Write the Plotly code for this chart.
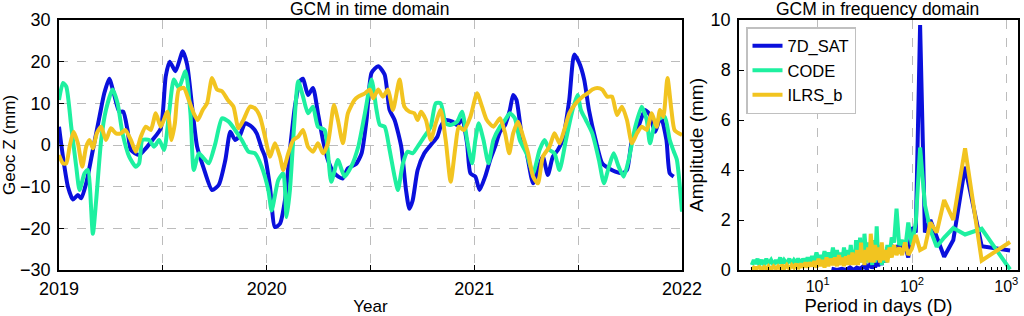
import plotly.graph_objects as go

# ---------------- time domain (decimal year, mm) ----------------
SAT_TIME = [(2019.000, 4.4), (2019.019, -2.8), (2019.043, -10), (2019.067, -13.1), (2019.091, -12),
            (2019.107, -12.8), (2019.131, -9.2), (2019.163, -1.2), (2019.195, 6.8), (2019.218, 12.4),
            (2019.242, 15.9), (2019.266, 12), (2019.290, 8), (2019.309, 8), (2019.330, 3.6),
            (2019.346, -1.2), (2019.386, -2.4), (2019.418, -0.8), (2019.450, 1.2), (2019.490, 4),
            (2019.514, 16.5), (2019.533, 20), (2019.561, 17.7), (2019.596, 22.5), (2019.617, 19.3),
            (2019.641, 9.2), (2019.665, -0.4), (2019.697, -5.6), (2019.737, -10.8), (2019.769, -9.6),
            (2019.801, -3.6), (2019.825, 3.2), (2019.848, 1.2), (2019.872, 2.4), (2019.896, 5.2),
            (2019.928, 4.4), (2019.952, 2.8), (2019.976, -0.8), (2019.992, -2.8), (2020.016, -10),
            (2020.040, -19.7), (2020.064, -18.9), (2020.088, -13.3), (2020.112, -1.2), (2020.136, 9.2),
            (2020.160, 15.3), (2020.175, 15.9), (2020.199, 12), (2020.223, 13.7), (2020.247, 7.6),
            (2020.271, 1.2), (2020.295, -3.6), (2020.320, -6.4), (2020.345, -7.6), (2020.367, -8),
            (2020.391, -5.6), (2020.430, -4.6), (2020.457, -2), (2020.481, 6), (2020.505, 17.3),
            (2020.537, 18.9), (2020.568, 16.9), (2020.592, 8.4), (2020.616, 6), (2020.648, -0.4),
            (2020.671, -10.8), (2020.687, -15.3), (2020.703, -13.3), (2020.727, -6), (2020.759, -2),
            (2020.790, 0), (2020.822, 2), (2020.838, 4.4), (2020.862, 6), (2020.894, 5.6),
            (2020.917, 4.8), (2020.941, 6), (2020.965, 0.4), (2020.981, -6.8), (2021.005, -7.6),
            (2021.025, -10.8), (2021.052, -7.6), (2021.076, -3.6), (2021.100, -0.4), (2021.124, 3.2),
            (2021.148, 4.8), (2021.171, 8.4), (2021.187, 12), (2021.203, 10.8), (2021.227, 2.8),
            (2021.251, -1.6), (2021.283, -9.2), (2021.306, -6), (2021.330, -2.8), (2021.354, -7.2),
            (2021.378, -2.8), (2021.402, -1.2), (2021.425, 1.2), (2021.457, 10.8), (2021.481, 21.7),
            (2021.505, 19.7), (2021.529, 15.7), (2021.552, 8.4), (2021.584, 1.2), (2021.616, -4.4),
            (2021.648, -5.6), (2021.679, -6.4), (2021.711, -6.8), (2021.735, -6), (2021.759, 1.2),
            (2021.790, 4.4), (2021.822, 8.4), (2021.846, 7.2), (2021.870, 3.2), (2021.898, 6.8),
            (2021.925, 1.2), (2021.941, -6.8), (2021.960, -7.6)]

CODE_TIME = [(2019.000, 10.8), (2019.019, 14.9), (2019.035, 14), (2019.059, 4.4), (2019.083, -5.2),
             (2019.099, -10.8), (2019.123, -6.8), (2019.139, -6), (2019.163, -21.3), (2019.179, -13.3),
             (2019.203, 1.2), (2019.226, 8.4), (2019.258, 13.3), (2019.282, 10), (2019.306, 2.8),
             (2019.338, -2.8), (2019.370, -5.2), (2019.386, -4.4), (2019.402, 1.2), (2019.434, 1.2),
             (2019.458, -0.4), (2019.482, 1.2), (2019.506, -1.2), (2019.530, 7.6), (2019.553, 15.7),
             (2019.577, 13.7), (2019.609, 17.7), (2019.633, 7.6), (2019.649, -6), (2019.673, -2),
             (2019.697, -3.2), (2019.721, -4.4), (2019.753, 0.4), (2019.785, 6.4), (2019.817, 5.6),
             (2019.848, 3.6), (2019.880, 1.2), (2019.912, -1.6), (2019.944, -2), (2019.976, -5.2),
             (2020.008, -10.8), (2020.024, -15.7), (2020.056, -8.4), (2020.080, -6.8), (2020.096, -17.3),
             (2020.112, -10.8), (2020.132, 4.4), (2020.152, 15.3), (2020.175, 11.6), (2020.199, 7.6),
             (2020.223, 9.2), (2020.247, 4.4), (2020.279, 3.6), (2020.311, -8.8), (2020.343, -3.6),
             (2020.375, -7.6), (2020.407, -5.2), (2020.441, -0.4), (2020.473, 7.6), (2020.505, 15.7),
             (2020.529, 8.4), (2020.545, 4.8), (2020.568, 4.4), (2020.592, -1.2), (2020.616, -7.6),
             (2020.632, -10.8), (2020.656, -4.4), (2020.679, -1.6), (2020.703, -2), (2020.727, -0.4),
             (2020.759, 2), (2020.790, 4.4), (2020.814, 10), (2020.838, 10), (2020.862, 5.2),
             (2020.886, 4.8), (2020.917, 5.6), (2020.941, 8), (2020.965, 1.2), (2020.989, -4.4),
             (2021.005, 1.2), (2021.021, 5.2), (2021.044, 1.2), (2021.068, -4.4), (2021.092, 1.2),
             (2021.124, 4.4), (2021.148, 6), (2021.171, 7.6), (2021.195, 6.4), (2021.219, 1.2),
             (2021.251, -2), (2021.283, -6.8), (2021.314, -1.2), (2021.338, 1.2), (2021.362, -1.2),
             (2021.386, -2), (2021.410, -6), (2021.441, 1.2), (2021.473, 8.4), (2021.497, 12),
             (2021.513, 8.4), (2021.537, 6), (2021.568, 2.8), (2021.600, -3.6), (2021.624, -9.2),
             (2021.648, -5.2), (2021.671, -2), (2021.695, -5.2), (2021.719, -7.6), (2021.743, -3.6),
             (2021.775, 4.4), (2021.806, 9.2), (2021.830, 6), (2021.846, 0.4), (2021.870, 5.2),
             (2021.894, 6.4), (2021.917, 6.8), (2021.941, 1.2), (2021.960, -1.5), (2021.975, -3.5),
             (2022.000, -16)]

ILRS_TIME = [(2019.000, -2.4), (2019.019, -4.4), (2019.035, -4.4), (2019.051, -0.4), (2019.070, 3.2),
             (2019.091, 0.4), (2019.112, -5.2), (2019.131, -0.4), (2019.147, 1.2), (2019.163, -0.8),
             (2019.182, 2.8), (2019.203, 4.4), (2019.226, 1.2), (2019.250, 4), (2019.274, 2.8),
             (2019.298, 2.8), (2019.319, 3.6), (2019.346, 1.2), (2019.370, -1.6), (2019.394, 2),
             (2019.418, 4.4), (2019.442, 3.6), (2019.466, 7.6), (2019.490, 4.4), (2019.522, 8),
             (2019.542, 1.2), (2019.558, 5.2), (2019.577, 13.3), (2019.601, 13.7), (2019.625, 10.8),
             (2019.649, 7.6), (2019.668, 6), (2019.692, 8.4), (2019.713, 10), (2019.737, 16.1),
             (2019.761, 13.3), (2019.785, 12.9), (2019.813, 10.8), (2019.840, 9.2), (2019.864, 4),
             (2019.888, 6), (2019.920, 9.2), (2019.944, 8.8), (2019.968, 6.8), (2019.992, 2),
             (2020.016, -2.8), (2020.040, 0.4), (2020.064, -2.8), (2020.080, -6), (2020.104, -2),
             (2020.128, 1.2), (2020.152, 2), (2020.175, 3.6), (2020.199, -0.4), (2020.223, -1.6),
             (2020.247, 0.4), (2020.271, -2), (2020.295, 0.4), (2020.324, 9.6), (2020.343, 6),
             (2020.367, 0.4), (2020.391, 7.6), (2020.423, 10.8), (2020.441, 11.6), (2020.473, 12.4),
             (2020.497, 13.3), (2020.513, 11.2), (2020.537, 13.3), (2020.560, 11.6), (2020.584, 13.3),
             (2020.608, 8.4), (2020.640, 15.7), (2020.663, 9.2), (2020.687, 8), (2020.711, 7.6),
             (2020.727, 6), (2020.743, 8), (2020.767, 6), (2020.790, 1.2), (2020.814, 5.2),
             (2020.838, 8.4), (2020.862, 1.2), (2020.886, -8.8), (2020.909, -0.4), (2020.925, 4.4),
             (2020.949, 3.6), (2020.981, 6.8), (2021.013, 12.4), (2021.037, 9.2), (2021.060, 6),
             (2021.092, 4.4), (2021.124, 6.4), (2021.148, 2.8), (2021.168, -2), (2021.187, 2.8),
             (2021.211, 5.6), (2021.235, 2), (2021.259, -2), (2021.283, -7.6), (2021.306, -9.2),
             (2021.330, -2.8), (2021.362, -0.4), (2021.386, 2.8), (2021.410, 0.4), (2021.433, 3.6),
             (2021.457, 7.6), (2021.489, 10), (2021.521, 11.6), (2021.545, 12.4), (2021.568, 13.3),
             (2021.592, 13.7), (2021.616, 13.3), (2021.640, 11.6), (2021.663, 11.6), (2021.687, 7.2),
             (2021.711, 9.2), (2021.735, 6), (2021.759, 0.4), (2021.783, 2.8), (2021.806, 4.4),
             (2021.830, 3.6), (2021.854, 7.6), (2021.878, 4.4), (2021.894, 8.4), (2021.910, 6.8),
             (2021.930, 16.1), (2021.949, 8.4), (2021.965, 3.5), (2022.000, 2.4)]

# ---------------- frequency domain (period in days, amplitude mm) ----------------
SAT_FREQ = [(1096, 0.78), (548, 0.95), (365.3, 4.13), (274, 1.2), (219.2, 0.53), (182.7, 1.3),
            (156.6, 2.0), (137, 1.5), (121.8, 9.8), (109.6, 1.5), (99.6, 1.7), (91.3, 0.5),
            (84.3, 1.0), (78.3, 0.8), (73.1, 1.0), (68.5, 0.9), (64.5, 0.7), (60.9, 1.0),
            (57.7, 0.6), (54.8, 0.9), (52.2, 0.3), (49.8, 0.6), (47.7, 0.2), (45.7, 0.5),
            (43.8, 0.15), (42.2, 0.4), (40.6, 0.1), (39.1, 0.3), (37.8, 0.05), (36.5, 0.35),
            (35.4, 0.1), (34.3, 0.2), (33.2, 0.0), (32.2, 0.25), (31.3, 0.05), (30.4, 0.15),
            (28.0, 0.05), (26.0, 0.1), (24.0, 0.0), (22.0, 0.1), (20.0, 0.0), (18.0, 0.05),
            (16.0, 0.0), (14.0, 0.05)]

CODE_FREQ = [(1096, 0.02), (548, 1.65), (365.3, 1.42), (274, 1.68), (219.2, 1.3), (182.7, 0.93),
             (156.6, 1.6), (137, 2.6), (121.8, 4.9), (109.6, 1.9), (99.6, 1.0), (91.3, 1.9),
             (84.3, 0.8), (78.3, 1.2), (73.1, 1.0), (68.5, 2.45), (64.5, 1.1), (60.9, 1.3),
             (57.7, 0.5), (54.8, 1.0), (52.2, 0.3), (49.8, 0.8), (47.7, 0.2), (45.7, 1.0),
             (43.8, 0.4), (42.2, 1.75), (40.6, 0.3), (39.1, 1.2), (37.8, 0.2), (36.5, 1.0),
             (35.4, 0.4), (34.3, 1.1), (33.2, 0.3), (32.2, 0.9), (31.3, 1.45), (30.4, 0.4),
             (29.6, 1.0), (28.8, 0.3), (28.1, 1.3), (27.4, 0.5), (26.7, 0.9), (26.1, 0.4),
             (25.5, 1.2), (24.9, 0.5), (24.4, 0.8), (23.3, 0.4), (22.4, 1.0), (21.5, 0.4),
             (20.7, 0.8), (19.9, 0.3), (19.0, 0.9), (18.3, 0.4), (17.5, 0.7), (16.8, 0.3),
             (16.0, 0.8), (15.2, 0.4), (14.5, 0.9), (13.7, 0.35), (13.0, 0.7), (12.4, 0.4),
             (11.8, 0.75), (11.2, 0.35), (10.7, 0.6), (10.2, 0.4), (9.7, 0.7), (9.2, 0.35),
             (8.7, 0.55), (8.2, 0.3), (7.8, 0.5), (7.4, 0.3), (7.0, 0.45), (6.6, 0.25),
             (6.2, 0.45), (5.9, 0.3), (5.6, 0.4), (5.3, 0.25), (5.0, 0.45), (4.7, 0.25),
             (4.4, 0.4), (4.2, 0.25), (4.0, 0.5), (3.8, 0.25), (3.6, 0.4), (3.4, 0.2),
             (3.2, 0.4), (3.0, 0.25), (2.85, 0.45), (2.7, 0.2), (2.55, 0.4), (2.4, 0.2),
             (2.3, 0.45), (2.2, 0.25), (2.1, 0.4), (2.0, 0.2)]

ILRS_FREQ = [(1096, 1.12), (548, 0.38), (365.3, 4.87), (274, 2.0), (219.2, 2.8), (182.7, 1.5),
             (156.6, 1.9), (137, 0.9), (121.8, 0.8), (109.6, 1.4), (99.6, 0.85), (91.3, 0.6),
             (84.3, 1.1), (78.3, 0.6), (73.1, 0.9), (68.5, 0.6), (64.5, 1.0), (60.9, 0.5),
             (57.7, 0.9), (54.8, 0.3), (52.2, 0.8), (49.8, 0.4), (47.7, 1.1), (45.7, 0.3),
             (43.8, 0.9), (42.2, 0.4), (40.6, 1.0), (39.1, 0.3), (37.8, 0.8), (36.5, 1.45),
             (35.4, 0.3), (34.3, 0.9), (33.2, 0.4), (32.2, 0.8), (31.3, 0.2), (30.4, 0.7),
             (29.6, 0.3), (28.8, 1.1), (28.1, 0.3), (27.4, 0.7), (26.7, 0.2), (26.1, 0.8),
             (25.5, 0.3), (24.9, 0.6), (24.4, 0.2), (23.3, 0.7), (22.4, 0.2), (21.5, 0.6),
             (20.7, 0.2), (19.9, 0.55), (19.0, 0.15), (18.3, 0.5), (17.5, 0.2), (16.8, 0.6),
             (16.0, 0.15), (15.2, 0.5), (14.5, 0.2), (13.7, 0.45), (13.0, 0.15), (12.4, 0.5),
             (11.8, 0.1), (11.2, 0.4), (10.7, 0.15), (10.2, 0.45), (9.7, 0.1), (9.2, 0.35),
             (8.7, 0.15), (8.2, 0.3), (7.8, 0.1), (7.4, 0.3), (7.0, 0.1), (6.6, 0.25),
             (6.2, 0.05), (5.9, 0.25), (5.6, 0.1), (5.3, 0.2), (5.0, 0.05), (4.7, 0.2),
             (4.4, 0.05), (4.2, 0.2), (4.0, 0.05), (3.8, 0.15), (3.6, 0.05), (3.4, 0.15),
             (3.2, 0.02), (3.0, 0.15), (2.85, 0.05), (2.7, 0.12), (2.55, 0.02), (2.4, 0.12),
             (2.2, 0.05), (2.1, 0.1), (2.0, 0.02)]

SERIES_NAMES = ["7D_SAT", "CODE", "ILRS_b"]
COLORS = ["#0a10dc", "#1ef0a0", "#f2c420"]
YEAR_TICKS = [2019, 2019.5, 2020, 2020.5, 2021, 2021.5, 2022]
YEAR_LABELS = ["2019", "", "2020", "", "2021", "", "2022"]
Z_TICKS = [-30, -20, -10, 0, 10, 20, 30]
PERIOD_TICKS = [10, 100, 1000]
PERIOD_LABELS = ["10<sup>1</sup>", "10<sup>2</sup>", "10<sup>3</sup>"]
AMP_TICKS = [0, 2, 4, 6, 8, 10]

FONT = "Liberation Sans, Arial, sans-serif"
W, H = 1024, 316

fig = go.Figure()
times = [SAT_TIME, CODE_TIME, ILRS_TIME]
freqs = [SAT_FREQ, CODE_FREQ, ILRS_FREQ]
for name, col, ts in zip(SERIES_NAMES, COLORS, times):
    fig.add_trace(go.Scatter(x=[p[0] for p in ts], y=[p[1] for p in ts], mode="lines",
                             line=dict(color=col, width=4, shape="spline", smoothing=0.6),
                             name=name, showlegend=False, xaxis="x", yaxis="y"))
for name, col, fs in zip(SERIES_NAMES, COLORS, freqs):
    fig.add_trace(go.Scatter(x=[p[0] for p in fs], y=[p[1] for p in fs], mode="lines",
                             line=dict(color=col, width=4),
                             name=name, showlegend=True, xaxis="x2", yaxis="y2"))

ydom = [46 / H, 296 / H]
axis_common = dict(showline=True, linecolor="black", linewidth=1.5, mirror=True,
                   ticks="inside", ticklen=5, tickcolor="black", automargin=False,
                   zeroline=False)
tick18 = dict(family=FONT, size=18, color="black")
grid = dict(showgrid=True, gridcolor="#bcbcbc", gridwidth=1.3, griddash="dash")

fig.update_layout(
    width=W, height=H, margin=dict(l=0, r=0, t=0, b=0, autoexpand=False),
    paper_bgcolor="white", plot_bgcolor="white",
    font=dict(family=FONT, color="black"),
    xaxis=dict(domain=[59 / W, 682 / W], range=[2019, 2022], tickmode="array",
               tickvals=YEAR_TICKS, ticktext=YEAR_LABELS, anchor="y", ticklabelstandoff=2,
               tickfont=tick18,
               title=dict(text="Year", font=dict(size=17), standoff=2), **axis_common, **grid),
    yaxis=dict(domain=ydom, range=[-30, 30], tickmode="array", tickvals=Z_TICKS, anchor="x",
               ticklabelstandoff=3, tickfont=tick18,
               title=dict(text="Geoc Z (mm)", font=dict(size=17), standoff=2), **axis_common, **grid),
    xaxis2=dict(domain=[739 / W, 1018 / W], type="log", range=[0.165, 3.124], tickmode="array",
                tickvals=PERIOD_TICKS, ticktext=PERIOD_LABELS, anchor="y2", ticklabelstandoff=1,
                tickfont=dict(family=FONT, size=16, color="black"),
                minor=dict(ticks="inside", ticklen=3, tickcolor="black", dtick="D1", showgrid=False),
                title=dict(text="Period in days (D)", font=dict(size=18.5), standoff=5),
                **axis_common, **grid),
    yaxis2=dict(domain=ydom, range=[0, 10], tickmode="array", tickvals=AMP_TICKS, anchor="x2",
                showgrid=False, ticklabelstandoff=3, tickfont=tick18,
                title=dict(text="Amplitude (mm)", font=dict(size=19), standoff=2), **axis_common),
    legend=dict(x=746 / W, y=1 - 27 / H, xanchor="left", yanchor="top",
                bgcolor="white", bordercolor="#c0c0c0", borderwidth=1.5,
                font=dict(family=FONT, size=16.5, color="black"),
                tracegroupgap=0, itemwidth=30),
    annotations=[
        dict(text="GCM in time domain", x=370 / W, y=1 - 9 / H, xref="paper", yref="paper",
             xanchor="center", yanchor="middle", showarrow=False, font=dict(size=17.5)),
        dict(text="GCM in frequency domain", x=877 / W, y=1 - 9 / H, xref="paper", yref="paper",
             xanchor="center", yanchor="middle", showarrow=False, font=dict(size=17.5)),
    ],
)

fig.write_html("out.html")
